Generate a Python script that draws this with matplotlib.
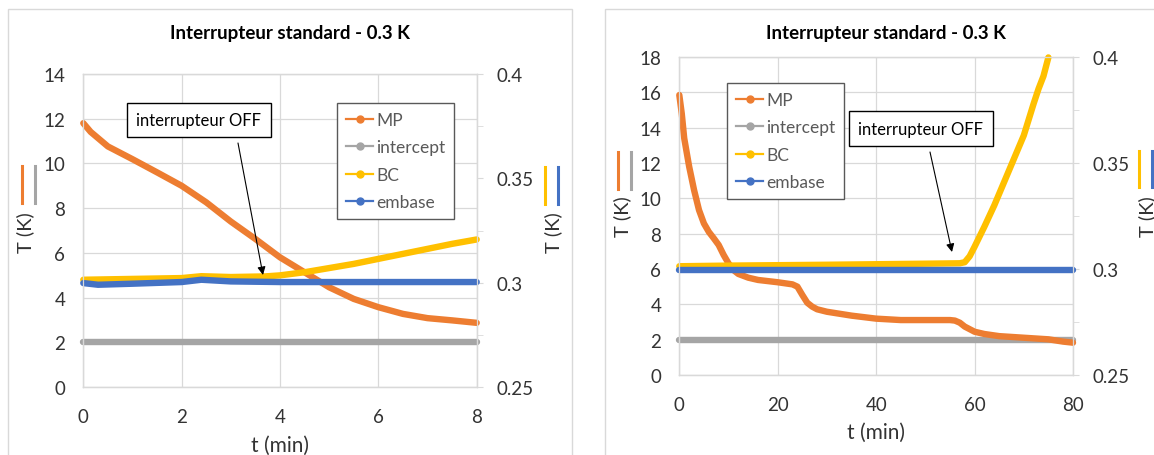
import numpy as np
import matplotlib.pyplot as plt
from matplotlib.patches import Rectangle
from matplotlib.lines import Line2D
from matplotlib.ticker import MultipleLocator

plt.rcParams['font.family'] = ['Lato', 'DejaVu Sans']

W, H = 1154, 456

# colours (Excel default palette)
c_mp = '#ED7D31'
c_int = '#A5A5A5'
c_bc = '#FFC000'
c_emb = '#4472C4'
c_grid = '#D9D9D9'
c_txt = '#333333'

# ---- left chart : 0 - 8 min ----
t_mp_a = [0, 0.15, 0.5, 1, 1.5, 2, 2.5, 3, 3.5, 4, 4.5, 5, 5.5, 6, 6.5, 7, 7.5, 8]
mp_a = [11.8, 11.41, 10.76, 10.19, 9.6, 9.0, 8.26, 7.4, 6.62, 5.8, 5.13, 4.46,
        3.94, 3.57, 3.27, 3.08, 2.98, 2.87]
t_int_a = [0, 8]
int_a = [2.0, 2.0]
t_bc_a = [0, 1, 2, 2.4, 3, 3.7, 4, 4.5, 5, 5.5, 6, 6.5, 7, 7.5, 8]
bc_a = [0.3014, 0.3018, 0.3022, 0.3031, 0.3027, 0.303, 0.3035, 0.305, 0.307,
        0.309, 0.3114, 0.3138, 0.3162, 0.3186, 0.3207]
t_emb_a = [0, 0.3, 1, 2, 2.4, 3, 4, 8]
emb_a = [0.2998, 0.299, 0.2995, 0.3003, 0.3014, 0.3006, 0.3003, 0.3003]

# ---- right chart : 0 - 80 min ----
t_mp_b = [0, 0.5, 1, 2, 3, 4, 5, 6, 7, 8, 9, 10, 11, 12, 14, 16, 20, 23, 24, 25,
          26, 27, 28, 30, 35, 40, 45, 50, 55, 56, 57, 58, 60, 62, 65, 70, 75, 78, 80]
mp_b = [15.85, 14.8, 13.4, 11.8, 10.47, 9.34, 8.58, 8.1, 7.74, 7.36, 6.8, 6.32,
        5.94, 5.72, 5.51, 5.38, 5.25, 5.13, 5.0, 4.53, 4.09, 3.87, 3.72, 3.58,
        3.36, 3.19, 3.11, 3.11, 3.11, 3.08, 2.96, 2.74, 2.45, 2.32, 2.2, 2.11,
        2.02, 1.89, 1.83]
t_int_b = [0, 80]
int_b = [2.0, 2.0]
t_bc_b = [0, 10, 30, 50, 57, 58, 59, 60, 62, 64, 66, 68, 70, 72, 73, 74, 75]
bc_b = [0.3013, 0.3016, 0.302, 0.3025, 0.3027, 0.3032, 0.306, 0.3105, 0.320,
        0.330, 0.341, 0.352, 0.363, 0.378, 0.385, 0.391, 0.3998]
t_emb_b = [0, 80]
emb_b = [0.2997, 0.2997]

title = 'Interrupteur standard - 0.3 K'
labels = ['MP', 'intercept', 'BC', 'embase']


def fx(x):
    return x / W


def fy(y):
    return 1 - y / H


fig = plt.figure(figsize=(W / 100, H / 100), dpi=100)

# chart borders
fig.add_artist(Rectangle((fx(8), -0.05), fx(572 - 8), fy(10) + 0.05,
                         transform=fig.transFigure, fill=False, ec=c_grid, lw=1))
fig.add_artist(Rectangle((fx(605), -0.05), 0.5, fy(10) + 0.05,
                         transform=fig.transFigure, fill=False, ec=c_grid, lw=1))


def panel(box, tmax, tstep, ymax, series, leg_xy, note_xy, arrow, title_x,
          xlabel_y, ylab_l, ylab_r):
    x0, x1, ytop, ybot = box
    ax = fig.add_axes([fx(x0), fy(ybot), fx(x1 - x0), (ybot - ytop) / H])
    ax2 = ax.twinx()
    (t1, y1), (t2, y2), (t3, y3), (t4, y4) = series
    kw = dict(lw=4.6, solid_capstyle='round', clip_on=False)
    ax.plot(t1, y1, color=c_mp, zorder=3, **kw)
    ax.plot(t2, y2, color=c_int, zorder=2, **kw)
    ax2.plot(t3, y3, color=c_bc, **kw)
    ax2.plot(t4, y4, color=c_emb, **kw)

    ax.set_xlim(0, tmax)
    ax.set_ylim(0, ymax)
    ax2.set_ylim(0.25, 0.4)
    ax.xaxis.set_major_locator(MultipleLocator(tstep))
    ax.yaxis.set_major_locator(MultipleLocator(2))
    ax2.yaxis.set_major_locator(MultipleLocator(0.05))
    ax2.yaxis.set_minor_locator(MultipleLocator(0.025))
    ax2.yaxis.set_major_formatter(lambda v, p: '%g' % round(v, 3))
    ax.grid(True, color=c_grid, lw=0.9)
    ax.set_axisbelow(True)
    for a in (ax, ax2):
        for s in a.spines.values():
            s.set_color(c_grid)
            s.set_linewidth(0.9)
    ax.tick_params(axis='both', length=0, labelsize=13.5, labelcolor=c_txt)
    ax.tick_params(axis='y', pad=13)
    ax.tick_params(axis='x', pad=15)
    ax2.tick_params(axis='y', which='both', length=4, color=c_grid,
                    labelsize=13.5, labelcolor=c_txt, pad=10)

    fig.text(fx(title_x), fy(33), title, ha='center', va='center',
             fontsize=13.5, fontweight='bold', color='black')
    fig.text(fx((x0 + x1) / 2), fy(xlabel_y), 't (min)', ha='center',
             va='center', fontsize=15, color=c_txt)

    # y titles with the Excel series markers
    for (tx, ty, bx, by0, by1, cols) in (ylab_l, ylab_r):
        fig.text(fx(tx), fy(ty), 'T (K)', rotation=90, ha='center',
                 va='center', fontsize=14.5, color=c_txt)
        for k, c in enumerate(cols):
            fig.add_artist(Line2D([fx(bx + 13 * k)] * 2, [fy(by0), fy(by1)],
                                  transform=fig.transFigure, color=c, lw=2.2))

    handles = [Line2D([], [], color=c, lw=1.6, marker='o', markersize=5)
               for c in (c_mp, c_int, c_bc, c_emb)]
    leg = ax2.legend(handles, labels, loc='upper left',
                     bbox_to_anchor=(fx(leg_xy[0]), fy(leg_xy[1])),
                     bbox_transform=fig.transFigure, borderaxespad=0,
                     fancybox=False, edgecolor='#595959', framealpha=1,
                     fontsize=12.5, labelcolor='#595959', handlelength=1.6,
                     handletextpad=0.15, labelspacing=0.66, borderpad=0.5)
    leg.get_frame().set_linewidth(1.0)

    fig.text(fx(note_xy[0]), fy(note_xy[1]), 'interrupteur OFF', ha='center',
             va='center', fontsize=12, color='black',
             bbox=dict(boxstyle='square,pad=0.55', fc='white', ec='black',
                       lw=1.0))
    (sx, sy), (ex, ey) = arrow
    ax2.annotate('', xy=(fx(ex), fy(ey)), xytext=(fx(sx), fy(sy)),
                 xycoords='figure fraction', textcoords='figure fraction',
                 arrowprops=dict(arrowstyle='-|>', color='black', lw=0.8,
                                 mutation_scale=12, shrinkA=0, shrinkB=0))
    return ax, ax2


panel((83.3, 476.7, 75, 388), 8, 2, 14,
      [(t_mp_a, mp_a), (t_int_a, int_a), (t_bc_a, bc_a), (t_emb_a, emb_a)],
      (337, 104), (199, 121), ((238, 144), (263, 276)), 290, 446,
      (25, 233, 22, 167, 204, (c_mp, c_int)),
      (553, 233, 544.5, 168, 205, (c_bc, c_emb)))

panel((679.3, 1073, 58, 376), 80, 20, 18,
      [(t_mp_b, mp_b), (t_int_b, int_b), (t_bc_b, bc_b), (t_emb_b, emb_b)],
      (727, 84), (921, 129.5), ((930, 153), (952, 253)), 886, 433,
      (622, 217, 617.5, 153, 190, (c_mp, c_int)),
      (1147, 217, 1139, 152, 188, (c_bc, c_emb)))

fig.savefig('out.png', dpi=100)
